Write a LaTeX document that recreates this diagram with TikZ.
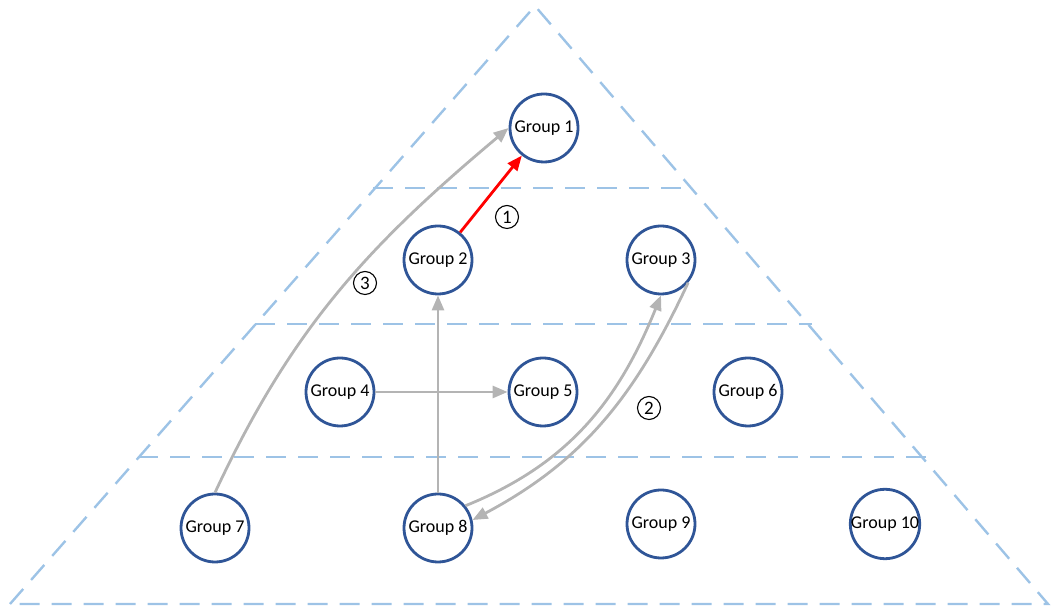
\documentclass[tikz,border=0pt]{standalone}
\usepackage{fontspec}
\setmainfont{Carlito}
\usepackage{tikz}
\usetikzlibrary{arrows.meta}
\definecolor{ringblue}{HTML}{2F5597}
\definecolor{dashblue}{HTML}{9DC3E6}
\definecolor{arrgray}{HTML}{B4B4B4}

\begin{document}
\begin{tikzpicture}[x=1pt, y=1pt, main node/.style={circle, draw=ringblue, fill=white, line width=2.8pt, minimum size=68pt, inner sep=0pt, font=\fontsize{18}{18}\selectfont}, layer/.style={dashblue, line width=2.4pt, dash pattern=on 20pt off 12pt}, link/.style={arrgray, line width=2.8pt, -{Triangle[length=15pt, width=12pt]}}, num/.style={circle, draw, line width=1.1pt, minimum size=23pt, inner sep=0pt, font=\fontsize{19}{19}\selectfont}]
\useasboundingbox (0,0) rectangle (1052,609);
\draw[layer] (10,5) -- (535,603) -- (1048,5) -- cycle;
\draw[layer] (373,421) -- (683,421);
\draw[layer] (255,285) -- (812,285);
\draw[layer] (138,152) -- (930,152);
\node[main node] (1) at (544,481) {Group 1};
\node[main node] (2) at (438,349) {Group 2};
\node[main node] (3) at (661,349) {Group 3};
\node[main node] (4) at (340,217) {Group 4};
\node[main node] (5) at (543,217) {Group 5};
\node[main node] (6) at (748,217) {Group 6};
\node[main node] (7) at (215,81) {Group 7};
\node[main node] (8) at (438,81) {Group 8};
\node[main node] (9) at (661,85) {Group 9};
\node[main node] (10) at (885,85) {Group 10};
\node[num] (n1) at (507,392) {1};
\node[num] (n2) at (649,201) {2};
\node[num] (n3) at (365,326) {3};
\path
(2) edge[link, red] (1)
(7.north) edge[link, out=65, in=220] (1.west)
(4) edge[link] (5)
(8) edge[link] (2)
(8.39) edge[link, out=22, in=248] (3.south)
(3.-40) edge[link, out=245, in=28] (8.13);
\end{tikzpicture}
\end{document}
